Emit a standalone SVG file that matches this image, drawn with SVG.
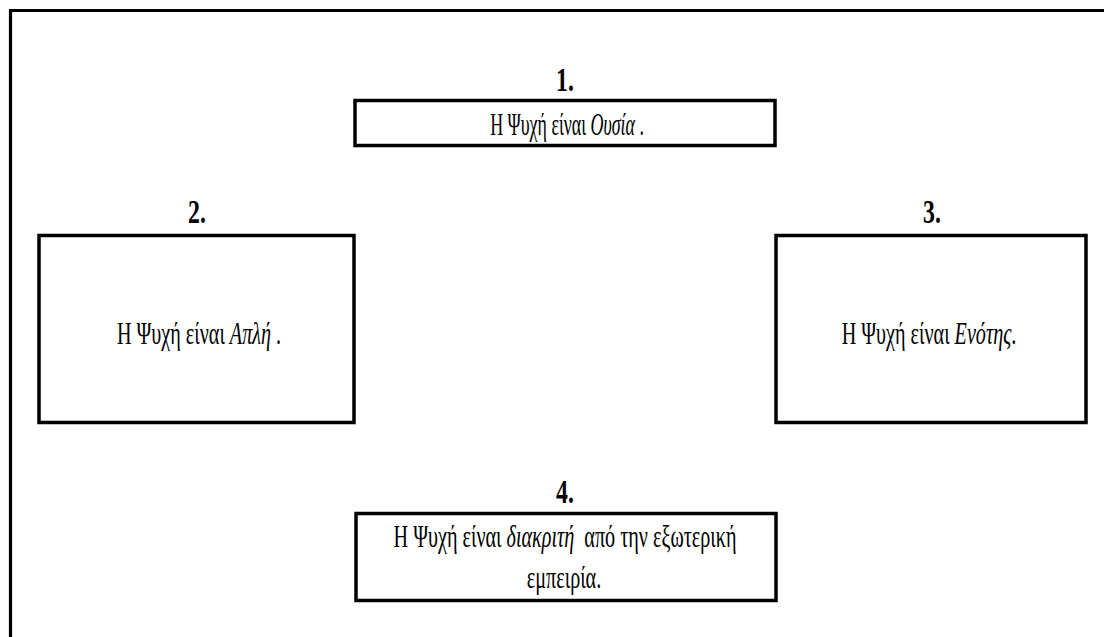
<svg xmlns="http://www.w3.org/2000/svg" width="1104" height="637" viewBox="0 0 1104 637">
<style>
.frame{fill:none;stroke:#000;stroke-width:3.2}
.box{fill:#fff;stroke:#000;stroke-width:3.5}
.lbl{font-family:"Liberation Serif","DejaVu Serif",serif;font-weight:bold;font-size:34px;fill:#000;text-anchor:middle}
.txt{font-family:"Liberation Serif","DejaVu Serif",serif;font-size:32px;fill:#000;text-anchor:middle;white-space:pre}
.it{font-style:italic}
</style>
<rect width="1104" height="637" fill="#fff"/>
<g id="frame">
<path class="frame" d="M10.5 637 V10.5 H1104"/>
</g>
<g id="connectors"/>
<g id="node1">
<text class="lbl" transform="translate(565 91) scale(0.7 1)">1.</text>
<rect class="box" x="355" y="100.5" width="420" height="45"/>
<text class="txt" transform="translate(567 135) scale(0.56 1)">Η Ψυχή είναι <tspan class="it">Ουσία</tspan> .</text>
</g>
<g id="node2">
<text class="lbl" transform="translate(197 223) scale(0.7 1)">2.</text>
<rect class="box" x="39" y="235.5" width="315" height="187"/>
<text class="txt" transform="translate(199 344) scale(0.63 1)">Η Ψυχή είναι <tspan class="it">Απλή</tspan> .</text>
</g>
<g id="node3">
<text class="lbl" transform="translate(932 223) scale(0.7 1)">3.</text>
<rect class="box" x="776" y="235.5" width="310" height="187"/>
<text class="txt" transform="translate(929 344) scale(0.63 1)">Η Ψυχή είναι <tspan class="it">Ενότης</tspan>.</text>
</g>
<g id="node4">
<text class="lbl" transform="translate(565 503) scale(0.7 1)">4.</text>
<rect class="box" x="356" y="513.5" width="420" height="87"/>
<text class="txt" transform="translate(565 547) scale(0.63 1)">Η Ψυχή είναι <tspan class="it">διακριτή</tspan>  από την εξωτερική</text>
<text class="txt" transform="translate(564 588) scale(0.63 1)">εμπειρία.</text>
</g>
</svg>
